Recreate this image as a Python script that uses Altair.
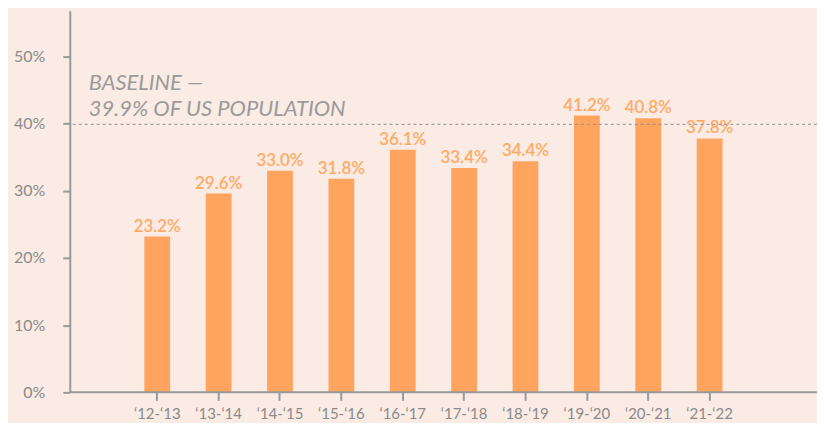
import altair as alt
import pandas as pd

years = ["\u201812-\u201813", "\u201813-\u201814", "\u201814-\u201815", "\u201815-\u201816", "\u201816-\u201817",
         "\u201817-\u201818", "\u201818-\u201819", "\u201819-\u201820", "\u201820-\u201821", "\u201821-\u201822"]
values = [23.2, 29.6, 33.0, 31.8, 36.1, 33.4, 34.4, 41.2, 40.8, 37.8]
baseline_value = 39.9
baseline_text = ["BASELINE \u2014", "39.9% OF US POPULATION"]
y_ticks = [0, 10, 20, 30, 40, 50]

df = pd.DataFrame({"year": years, "value": values})
df["label"] = df["value"].map(lambda v: f"{v:.1f}%")

FONT = "Lato"
GREY = "#8a8a8a"
BAR = "#FFA45E"
LABEL = "#FFAA66"

x = alt.X("year:N", sort=years,
          scale=alt.Scale(range=[57, 673], paddingInner=0.58, paddingOuter=0.29),
          axis=alt.Axis(title=None, domain=False, labelAngle=0, tickColor="#999999",
                        tickSize=8, tickWidth=2, labelPadding=6, labelFontSize=15,
                        labelColor=GREY, labelFont=FONT))
y = alt.Y("value:Q", scale=alt.Scale(domain=[0, 56.8], nice=False, zero=True),
          axis=alt.Axis(title=None, values=y_ticks, labelExpr="datum.value + '%'",
                        grid=False, domainColor="#999999", domainWidth=2,
                        tickColor="#999999", tickSize=7, tickWidth=2, labelPadding=18,
                        labelFontSize=16, labelColor=GREY, labelFont=FONT))

base = alt.Chart(df)
bars = base.mark_bar(color=BAR).encode(x=x, y=y)
labels = base.mark_text(color=LABEL, fontSize=17, fontWeight=600, font=FONT,
                        baseline="alphabetic", dy=-5).encode(x=x, y=y, text="label:N")
baseline_rule = alt.Chart(pd.DataFrame({"b": [baseline_value]})).mark_rule(
    color="#8f8f8f", strokeDash=[3, 3], strokeWidth=1).encode(y=alt.Y("b:Q"))
axis_line = alt.Chart(pd.DataFrame({"z": [0]})).mark_rule(
    color="#999999", strokeWidth=2).encode(y=alt.Y("z:Q"))
annot = alt.Chart(pd.DataFrame({"t": [baseline_text]})).mark_text(
    align="left", baseline="alphabetic", fontSize=22, fontStyle="italic", font=FONT,
    color="#9a9a9a", lineHeight=26).encode(x=alt.value(19), y=alt.value(80), text="t")

chart = alt.layer(bars, labels, baseline_rule, axis_line, annot).properties(
    width=750, height=383,
    autosize=alt.AutoSizeParams(type="none"),
    padding={"left": 62, "top": 2, "right": 0, "bottom": 30},
    background="#FAEBE4",
).configure_view(stroke=None)

chart.save("out.html", embed_options={"renderer": "svg", "actions": False})
